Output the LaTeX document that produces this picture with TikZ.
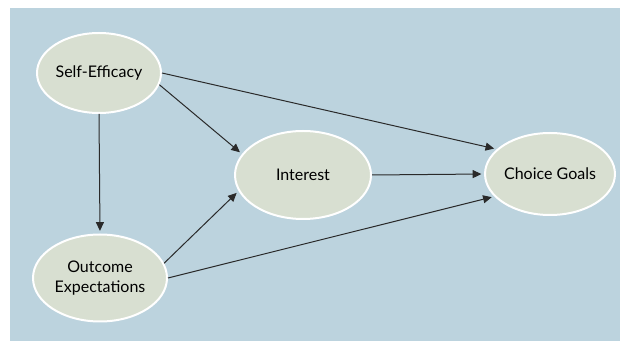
\documentclass[tikz,border=0pt]{standalone}
\usepackage{fontspec}
\setmainfont{Lato}
\usetikzlibrary{shapes.geometric,arrows.meta}
\definecolor{bgblue}{HTML}{BCD3DE}
\definecolor{ellfill}{HTML}{D8DFD1}
\definecolor{linegray}{HTML}{2A2A2A}
\tikzset{
  construct/.style={ellipse, fill=ellfill, draw=white, line width=1.5pt, inner sep=0pt,
    align=center, font=\fontsize{12}{14.5}\selectfont, text=black},
  link/.style={draw=linegray, line width=0.75pt, -{Triangle[length=6.5pt,width=6pt]}, shorten >=2pt}
}
\begin{document}
\begin{tikzpicture}[x=0.75pt,y=-0.75pt]
\useasboundingbox (0,0) rectangle (620,341);
\fill[bgblue] (10,8) rectangle (620,341);
\node[construct, minimum width=124*0.75pt, minimum height=80*0.75pt] (se) at (99,73) {Self-Efficacy};
\node[construct, minimum width=134*0.75pt, minimum height=87*0.75pt] (oe) at (100,278) {Outcome\\Expectations};
\node[construct, minimum width=136*0.75pt, minimum height=88*0.75pt] (in) at (303,175) {Interest};
\node[construct, minimum width=125*0.75pt, minimum height=82*0.75pt] (cg) at (550,174) {Choice Goals};
\draw[link] (se.south) -- (oe.north);
\draw[link] (se.-11) -- (in.161);
\draw[link] (se.east) -- (cg.155);
\draw[link] (in.east) -- (cg.west);
\draw[link] (oe.13) -- (in.-166);
\draw[link] (oe.east) -- (cg.-158);
\end{tikzpicture}
\end{document}
